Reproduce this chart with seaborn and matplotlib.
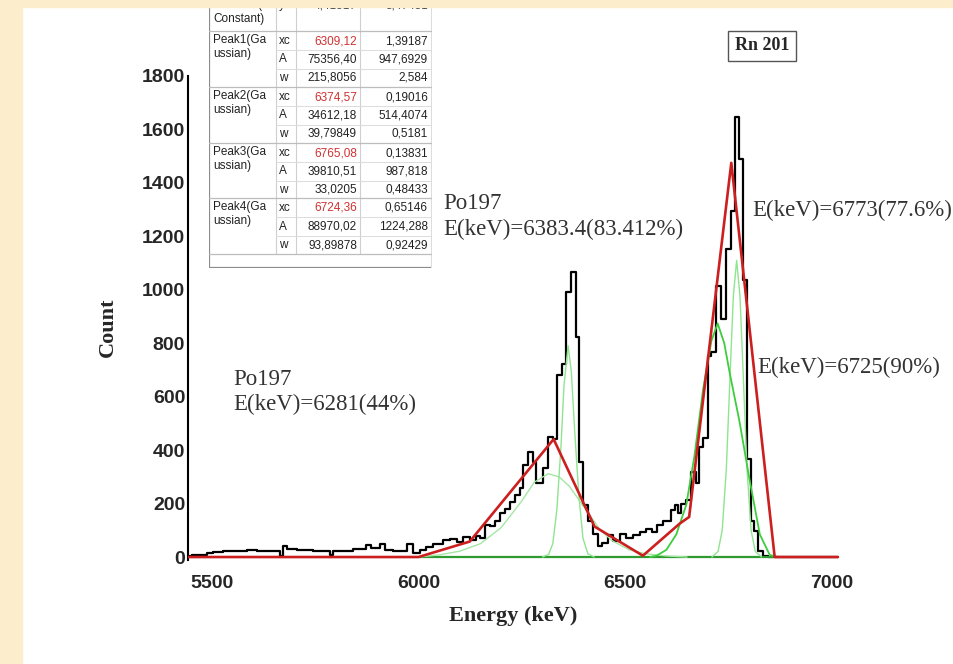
import matplotlib
matplotlib.use('Agg')
import matplotlib.pyplot as plt
import seaborn as sns
import pandas as pd
from matplotlib.patches import Rectangle

hist_edges = [5444, 5451, 5487, 5503, 5527, 5584, 5610, 5664, 5672, 5681,
              5705, 5745, 5785, 5793, 5841, 5874, 5886, 5906, 5918, 5938,
              5971, 5987, 6003, 6019, 6035, 6059, 6076, 6092, 6107, 6124,
              6140, 6148, 6160, 6172, 6185, 6197, 6209, 6221, 6233, 6245,
              6253, 6265, 6277, 6284, 6301, 6314, 6326, 6335, 6348, 6356,
              6368, 6381, 6389, 6398, 6410, 6422, 6435, 6445, 6459, 6471,
              6487, 6503, 6519, 6535, 6551, 6564, 6576, 6592, 6612, 6620,
              6628, 6636, 6648, 6660, 6672, 6680, 6689, 6701, 6709, 6721,
              6733, 6745, 6757, 6765, 6775, 6785, 6795, 6804, 6813, 6822,
              6834, 6846, 7015]
hist_counts = [2, 6, 15, 20, 22, 27, 22, 4, 41, 30,
               26, 22, 6, 24, 30, 45, 32, 48, 26, 22,
               48, 14, 28, 38, 48, 63, 68, 55, 75, 62,
               80, 71, 120, 115, 134, 165, 180, 207, 233, 260,
               344, 394, 355, 276, 332, 450, 440, 682, 723, 993,
               1065, 823, 355, 195, 134, 86, 40, 52, 83, 60,
               86, 71, 83, 95, 105, 95, 120, 133, 176, 193,
               165, 199, 212, 320, 276, 412, 445, 754, 766, 1015,
               890, 1152, 1294, 1648, 1491, 1036, 365, 133, 96, 21,
               3, 0, 0]

# cumulative fit (red polyline)
fit_energy = [5442, 6000, 6124, 6327, 6426, 6543, 6632, 6655, 6757, 6862, 7015]
fit_count = [0, 0, 58, 441, 114, 5, 125, 150, 1475, 0, 0]

# fit components (green)
peak1_energy = [6000, 6050, 6100, 6150, 6200, 6250, 6280, 6314, 6340, 6365,
                6390, 6420, 6440, 6470, 6510, 6550, 6600, 6650]
peak1_count = [0, 8, 22, 50, 110, 210, 280, 312, 300, 265,
               210, 145, 100, 60, 27, 12, 4, 0]
peak2_energy = [6300, 6315, 6325, 6335, 6345, 6352, 6362, 6370, 6378, 6388,
                6398, 6410, 6425]
peak2_count = [0, 10, 50, 180, 420, 640, 791, 690, 470, 230, 70, 12, 0]
peak3_energy = [6710, 6725, 6735, 6745, 6755, 6762, 6770, 6778, 6785, 6795,
                6805, 6815, 6830]
peak3_count = [0, 21, 100, 330, 715, 977, 1110, 977, 715, 330, 100, 21, 0]
peak4_energy = [6560, 6576, 6600, 6624, 6648, 6668, 6689, 6709, 6724, 6740,
                6753, 6777, 6800, 6826, 6850, 6870]
peak4_count = [0, 5, 27, 85, 195, 380, 630, 810, 874, 800,
               690, 506, 300, 85, 8, 0]
baseline_energy = [6000, 6857]
baseline_count = [0, 0]

# fit result table
group_names = ['Baseline(\nConstant)', 'Peak1(Ga\nussian)', 'Peak2(Ga\nussian)',
               'Peak3(Ga\nussian)', 'Peak4(Ga\nussian)']
param_names = [['y0'], ['xc', 'A', 'w'], ['xc', 'A', 'w'], ['xc', 'A', 'w'], ['xc', 'A', 'w']]
param_values = [['4,41517'],
                ['6309,12', '75356,40', '215,8056'],
                ['6374,57', '34612,18', '39,79849'],
                ['6765,08', '39810,51', '33,0205'],
                ['6724,36', '88970,02', '93,89878']]
param_errors = [['3,47431'],
                ['1,39187', '947,6929', '2,584'],
                ['0,19016', '514,4074', '0,5181'],
                ['0,13831', '987,818', '0,48433'],
                ['0,65146', '1224,288', '0,92429']]

sns.set_style('white')
plt.rcParams['font.family'] = ['Liberation Serif', 'DejaVu Serif']

fig = plt.figure(figsize=(9.54, 6.64), dpi=100)
ax = fig.add_axes([188 / 954, 1 - 559.7 / 664, 685 / 954, (559.7 - 76) / 664])

hist = pd.DataFrame({'Energy': hist_edges, 'Count': hist_counts})
sns.lineplot(data=hist, x='Energy', y='Count', drawstyle='steps-post',
             color='black', lw=1.6, ax=ax, zorder=3)

sns.lineplot(x=baseline_energy, y=baseline_count, color='#2f9a2f', lw=1.6, ax=ax, zorder=4)
sns.lineplot(x=peak1_energy, y=peak1_count, color='#a4e6a4', lw=1.0, ax=ax, zorder=4)
sns.lineplot(x=peak2_energy, y=peak2_count, color='#8fe48f', lw=1.0, ax=ax, zorder=4)
sns.lineplot(x=peak3_energy, y=peak3_count, color='#8fe48f', lw=1.0, ax=ax, zorder=4)
sns.lineplot(x=peak4_energy, y=peak4_count, color='#3fcc3f', lw=1.3, ax=ax, zorder=4)
sns.lineplot(x=fit_energy, y=fit_count, color='#cc1f1f', lw=1.9, ax=ax, zorder=5)

ax.set_xlim(5442, 7100)
ax.set_ylim(-10, 1800)
ax.set_xticks([5500, 6000, 6500, 7000])
ax.set_yticks(range(0, 1801, 200))
ax.tick_params(length=0, labelsize=14)
ax.tick_params(axis='x', pad=11)
ax.tick_params(axis='y', pad=2)
for lbl in ax.get_xticklabels() + ax.get_yticklabels():
    lbl.set_family('Liberation Sans')
    lbl.set_fontweight('bold')

for s in ['top', 'right', 'bottom']:
    ax.spines[s].set_visible(False)
ax.spines['left'].set_color('black')
ax.spines['left'].set_linewidth(1.5)

ax.set_xlabel('Energy (keV)', fontsize=16, fontweight='bold')
ax.set_ylabel('Count', fontsize=16, fontweight='bold')
ax.xaxis.set_label_coords(0.474, -0.096)
ax.yaxis.set_label_coords(-0.102, 0.48)

txt = dict(fontsize=16.5, color='#333333', ha='left', va='center', linespacing=1.25)
ax.text(5551, 617, 'Po197\nE(keV)=6281(44%)', **txt)
ax.text(6059, 1274, 'Po197\nE(keV)=6383.4(83.412%)', **txt)
ax.text(6809, 1298, 'E(keV)=6773(77.6%)', **txt)
ax.text(6821, 711, 'E(keV)=6725(90%)', **txt)

fig.text(762 / 954, 1 - 46 / 664, 'Rn 201', fontsize=13, fontweight='bold',
         ha='center', va='center',
         bbox=dict(boxstyle='square,pad=0.35', fc='white', ec='#555555', lw=1))

# inset table, drawn in pixel coordinates
tax = fig.add_axes([209 / 954, 1 - 268 / 664, (432 - 209) / 954, 280 / 664])
tax.set_xlim(209, 432)
tax.set_ylim(268, -12)
tax.axis('off')
col_lines = [276, 296, 360]
group_tops = [-12, 31, 87, 143, 198]
group_bottoms = [31, 87, 143, 198, 254]
for x in col_lines:
    tax.plot([x, x], [-12, 254], color='#cfcfcf', lw=0.8)
tax.plot([209.5, 209.5], [-12, 268], color='#8c8c8c', lw=1.6)
tax.plot([209, 432], [267.5, 267.5], color='#8c8c8c', lw=1.6)
tax.plot([431, 431], [-12, 268], color='#dddddd', lw=0.8)
for i, name in enumerate(group_names):
    top = group_tops[i]
    tax.plot([209, 431], [group_bottoms[i], group_bottoms[i]], color='#bdbdbd', lw=0.9)
    tax.text(213, top + 16 if i > 0 else 12, name, fontsize=8.5, family='Liberation Sans',
             color='#222222', ha='left', va='center', linespacing=1.15)
    for j, p in enumerate(param_names[i]):
        yc = top + 10 + 18.5 * j if i > 0 else 5
        if i > 0 and j > 0:
            tax.plot([276, 431], [yc - 9.5, yc - 9.5], color='#dcdcdc', lw=0.7)
        tax.text(279, yc, p, fontsize=8.5, family='Liberation Sans', color='#222222',
                 ha='left', va='center')
        vcol = '#d03030' if p == 'xc' else '#222222'
        tax.text(357, yc, param_values[i][j], fontsize=8.5, family='Liberation Sans',
                 color=vcol, ha='right', va='center')
        tax.text(428, yc, param_errors[i][j], fontsize=8.5, family='Liberation Sans',
                 color='#222222', ha='right', va='center')

# beige page margins
fig.add_artist(Rectangle((0, 0), 22 / 954, 1, transform=fig.transFigure,
                         color='#fcedcd', zorder=20))
fig.add_artist(Rectangle((0, 1 - 7 / 664), 1, 7 / 664, transform=fig.transFigure,
                         color='#fcedcd', zorder=20))

fig.savefig('out.png', dpi=100)
